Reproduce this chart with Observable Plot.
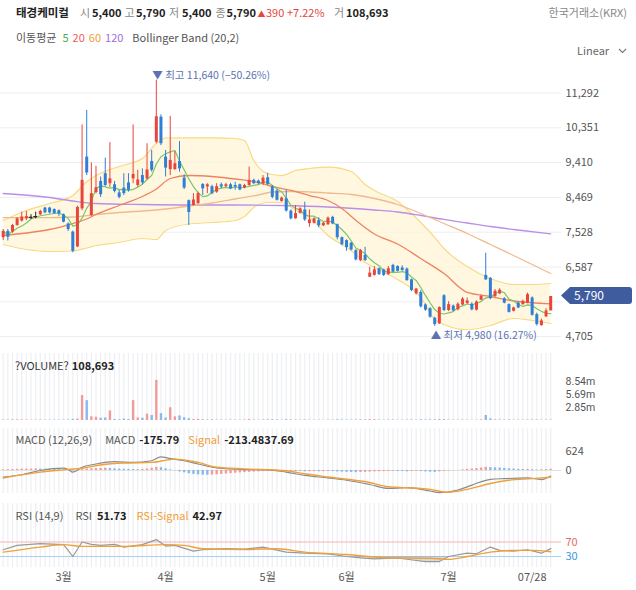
<!DOCTYPE html>
<html><head><meta charset="utf-8">
<script src="https://cdn.jsdelivr.net/npm/d3@7"></script>
<script src="https://cdn.jsdelivr.net/npm/@observablehq/plot@0.6"></script>
<style>
body{margin:0;background:#fff;font-family:'Noto Sans CJK KR','Noto Sans',sans-serif;}
#wrap{position:relative;width:636px;height:590px;overflow:hidden;background:#fff;}
.t{position:absolute;white-space:nowrap;font-size:11px;line-height:13px;color:#222;}
.row{position:absolute;white-space:nowrap;font-size:11px;line-height:13px;color:#222;display:flex;}
.g{color:#888;}
.b{font-weight:bold;}
</style></head>
<body><div id="wrap"></div>
<script>
// ---------- data ----------
const stockName = "태경케미컬";
const exchange = "한국거래소(KRX)";
const lastVolume = 108693;
const opens = [7380,7550,7530,7710,7830,7890,7930,7950,8000,8180,
8180,8140,8110,8000,7750,7530,7130,8160,9560,7980,
8600,8900,9110,8840,8810,8590,8720,8860,8970,8790,
9060,8970,9440,9960,10640,9560,9220,9220,9440,8990,
8380,8250,8300,8820,8750,8760,8610,8810,8760,8810,
8790,8810,8720,8790,8930,8910,8840,9000,8750,8640,
8360,8430,8100,7890,8040,8130,7760,7770,7840,7700,
7730,7930,7730,7380,7300,7230,7030,6760,6900,6310,
6360,6540,6510,6380,6630,6600,6560,6530,6240,5860,
5900,5560,5460,5200,5050,5810,5410,5530,5430,5560,
5600,5580,5420,5690,6360,6280,5790,5860,5730,5570,
5390,5610,5570,5610,5750,5300,5000,5240,5400];
const highs = [7600,7600,7740,7920,8070,8090,8000,8070,8120,8200,
8200,8160,8130,8020,7780,7560,8230,10430,10820,9400,
9310,9020,9530,9950,8900,8660,9110,9110,10430,9200,
9240,9920,9740,11640,10700,9740,10660,9710,9980,9080,
8400,8570,8610,8840,8840,8800,8840,8860,8850,8850,
8880,8830,8820,9290,8960,8940,9060,9120,8790,8680,
8480,8660,8130,8250,8190,8340,8130,7920,7920,7790,
7940,7960,7750,7400,7320,7250,7060,7060,7120,6580,
6600,6560,6530,6600,6660,6620,6620,6560,6260,6010,
5950,5590,5490,5230,5510,5840,5650,5560,5620,5760,
5750,5620,5670,5830,6960,6300,5980,6000,5760,5590,
5500,5640,5690,5880,5780,5340,5180,5460,5790];
const lows = [7300,7290,7500,7690,7800,7840,7870,7890,7980,8030,
8020,8010,7950,7780,7550,6970,7110,8110,9060,7950,
8560,8470,8760,8740,8590,8430,8520,8610,8840,8740,
8810,8930,9150,9920,9870,9020,9060,9200,9150,8680,
7710,8230,8280,8520,8570,8540,8580,8700,8730,8680,
8660,8650,8700,8770,8820,8810,8790,8790,8430,8370,
8340,8070,7860,7880,8020,7820,7660,7750,7650,7680,
7710,7730,7320,7160,7010,7020,6750,6730,6740,6300,
6340,6360,6330,6360,6430,6450,6470,6200,5920,5830,
5480,5390,5200,4980,5030,5380,5380,5380,5400,5540,
5580,5400,5400,5670,6220,5700,5760,5840,5590,5340,
5370,5460,5550,5590,5260,4990,4990,5220,5400];
const closes = [7550,7390,7710,7890,7940,7950,7930,7950,8090,8050,
8050,8030,8020,7800,7600,7010,8200,8930,9130,8570,
8730,8540,8790,8970,8630,8470,8570,8660,9090,8940,
8860,9210,9200,10650,9920,9260,9470,9380,9240,8720,
8060,8400,8570,8700,8810,8570,8760,8750,8810,8700,
8750,8670,8790,8930,8840,8840,8990,8820,8470,8390,
8450,8100,7890,8030,8160,7860,7860,7890,7700,7770,
7910,7750,7380,7190,7110,7050,6780,7030,6760,6420,
6510,6380,6360,6540,6450,6470,6490,6220,5950,5990,
5510,5420,5230,5030,5490,5410,5570,5400,5580,5720,
5670,5430,5640,5790,6240,5730,5930,5960,5610,5360,
5480,5480,5660,5840,5280,5030,5130,5400,5790];
// volume in millions of shares
const volumes = [0.12,0.1,0.15,0.14,0.12,0.1,0.08,0.08,0.1,0.09,0.08,0.08,0.07,0.1,0.12,0.25,
0.3,5.46,4.35,0.8,0.7,0.5,0.55,2.1,0.2,0.15,0.3,0.2,4.35,0.55,0.5,1.4,1.1,8.8,1.5,0.55,2.8,0.8,1.0,0.6,0.4,
0.2,0.25,0.15,0.12,0.15,0.12,0.1,0.08,0.1,0.08,
0.08,0.1,0.2,0.1,0.08,0.12,0.15,0.15,0.12,0.08,
0.15,0.12,0.1,0.08,0.12,0.1,0.08,0.08,0.07,0.1,
0.08,0.15,0.12,0.1,0.1,0.12,0.15,0.12,0.2,0.15,
0.1,0.08,0.1,0.12,0.08,0.08,0.1,0.12,0.1,0.15,
0.12,0.12,0.15,0.2,0.18,0.1,0.08,0.08,0.1,0.08,
0.07,0.08,0.15,1.1,0.35,0.15,0.12,0.1,0.12,0.08,
0.08,0.08,0.12,0.12,0.12,0.1,0.1,0.109];

// price gridlines; the 5,646 line's label sits under the current-price tag
const priceTicks = [4705,5646,6587,7528,8469,9410,10351,11292];
const priceLabelTicks = [4705,6587,7528,8469,9410,10351,11292];
const volTicks = [2.85,5.69,8.54];
const macdTicks = [0,624];
const rsiLevels = [30,70];
const xTickIdx = [13,35,57,74,96,114];
const xTickLabels = ["3월","4월","5월","6월","7월","07/28"];

const ma20Idx = [0,5,10,15,18,20,25,30,33,36,40,45,50,55,58,62,66,70,73,76,80,85,90,95,100,105,110,118];
const ma20Val = [7439,7506,7601,7763,7885,8007,8250,8493,8696,8980,9061,9034,8967,8872,8764,8656,8520,8385,8169,7850,7480,7209,6817,6411,5900,5789,5668,5592];
const ma60Idx = [0,10,15,20,25,30,35,40,45,50,55,58,62,66,70,75,80,85,90,95,100,105,110,118];
const ma60Val = [7921,7921,7939,8007,8061,8101,8155,8236,8318,8426,8534,8615,8629,8615,8588,8547,8439,8277,8034,7763,7493,7195,6898,6411];
const ma120Idx = [0,10,15,20,30,40,50,60,70,80,85,90,95,100,105,110,118];
const ma120Val = [8575,8466,8372,8304,8277,8264,8264,8250,8210,8128,8074,7980,7872,7777,7682,7601,7485];
const bbIdx = [0,5,10,15,18,20,25,30,33,35,40,45,50,52,54,57,60,63,66,70,75,78,80,85,90,93,95,100,105,110,114,118];
const bbUpper = [7844,8115,8304,8520,8890,9061,9305,9521,9926,10075,10080,10080,10062,10008,9467,9115,9061,9196,9250,9286,9169,8818,8656,8358,7790,7390,7087,6600,6276,6114,6114,6141];
const bbLower = [7196,7060,7006,7020,7101,7168,7250,7358,7330,7574,7750,7790,7844,7952,8196,8331,8331,8115,7925,7439,7033,6708,6573,6249,5762,5167,5032,4890,5005,5194,5140,5059];

const macdIdx = [0,4,8,13,14,15,17,20,24,28,32,34,36,39,42,46,52,57,61,65,70,74,79,83,87,92,94,98,101,105,108,113,116,118];
const macdVal = [-208,-135,0,73,31,-52,104,208,281,260,312,437,385,312,208,83,31,21,-52,-156,-239,-312,-447,-572,-551,-655,-707,-624,-468,-281,-260,-239,-291,-175.79];
const signalIdx = [0,8,13,17,21,26,32,37,42,46,52,61,65,70,79,83,87,92,96,100,105,109,114,118];
const signalVal = [-239,-52,21,73,177,239,260,364,260,104,52,-10,-104,-208,-385,-520,-551,-603,-697,-603,-416,-312,-260,-213.48];
const signalText = "-213.4837.69";
const macdHist = [20,25,30,35,40,42,45,48,45,40,35,30,25,20,10,
-20,-10,30,45,55,62,68,72,65,55,45,40,35,30,25,
35,50,70,100,90,55,20,-10,-45,-75,-105,-125,-140,-148,-152,
-145,-138,-125,-112,-100,-88,-78,-68,-58,-50,-42,-35,-28,-22,-16,-12,
-20,-28,-33,-30,-38,-36,-34,-37,-35,-30,-33,-44,-52,-58,-62,-70,-62,-58,-50,-42,-38,-35,-30,-28,
-30,-33,-40,-32,-22,-30,-44,-54,-60,-42,-30,-18,-8,5,20,35,47,60,78,100,
92,85,78,68,55,45,36,30,35,26,16,21,27,38];

const rsiIdx = [0,3,8,13,14,15,17,19,21,24,26,30,33,35,37,41,43,48,52,56,61,65,70,74,77,80,85,87,91,94,96,100,102,105,107,110,113,116,118];
const rsiVal = [48.7,60.7,65.5,62.7,46.8,30,70,63.5,60.7,63.5,56,62.7,76.6,58.8,60.7,44.8,48.7,51.5,50.4,56,42,39.2,37.5,30,26.4,23.6,26.4,22.5,16,16,30,39.2,37.5,56,46.8,44.8,48.7,39.2,51.73];
const rsiSigIdx = [0,8,13,17,26,35,39,43,52,59,65,74,83,92,96,100,105,110,114,118];
const rsiSigVal = [42,56,62.7,58,58,62.7,60.7,51.5,49.5,51.5,42,35.6,26.4,25.3,22,30,42,46.8,46.8,42.97];

// ---------- build ----------
const n = opens.length;
const idx = d3.range(n);
const candles = idx.map(i => ({i, o: opens[i], h: highs[i], l: lows[i], c: closes[i], v: volumes[i], m: macdHist[i], pm: i ? macdHist[i-1] : macdHist[i]}));
const series = (is, vs) => is.map((i, k) => ({i, v: vs[k]}));
const bb = bbIdx.map((i, k) => ({i, up: bbUpper[k], lo: bbLower[k]}));
const RED = "#e8453c", BLUE = "#2f7fd6", BLACK = "#222";
const dir = d => d.c > d.o ? RED : d.c < d.o ? BLUE : BLACK;
const fontFamily = "'Noto Sans CJK KR','Noto Sans',sans-serif";
const numFont = "Roboto, 'Liberation Sans', sans-serif";
const X = {domain: [0, n - 1], range: [2.7, 550.2], axis: null};
const baseStyle = {fontFamily, fontSize: "11px", overflow: "visible", background: "transparent"};
const fmt = d3.format(",");
const pct = d3.format(".2%");
const last = candles[n - 1];
const prev = candles[n - 2];
const hi = candles.reduce((a, b) => b.h > a.h ? b : a);
const lo = candles.reduce((a, b) => b.l < a.l ? b : a);
const wrap = document.getElementById("wrap");
const STRIPE = "#eff0f3";

function place(el, top) { el.style.position = "absolute"; el.style.left = "0px"; el.style.top = top + "px"; wrap.appendChild(el); return el; }
function txt(s, left, top, cls, css) {
  const e = document.createElement("div"); e.className = "t " + (cls || ""); e.textContent = s;
  e.style.left = left + "px"; e.style.top = top + "px"; if (css) Object.assign(e.style, css);
  wrap.appendChild(e); return e;
}
// a flowing row of [text, className, color, gapAfter]
function row(items, left, top) {
  const r = document.createElement("div"); r.className = "row";
  r.style.left = left + "px"; r.style.top = top + "px";
  for (const [s, cls, color, gap] of items) {
    const sp = document.createElement("span"); sp.textContent = s;
    if (cls) sp.className = cls; if (color) sp.style.color = color;
    sp.style.marginRight = (gap || 0) + "px"; r.appendChild(sp);
  }
  wrap.appendChild(r); return r;
}

// price panel
const price = Plot.plot({
  width: 636, height: 290, marginTop: 0, marginBottom: 0, marginLeft: 0, marginRight: 75,
  style: baseStyle, color: {type: "identity"},
  x: X,
  y: {domain: [priceTicks[0], priceTicks[priceTicks.length - 1]], range: [276.1, 32.5]},
  marks: [
    Plot.gridY(priceTicks, {stroke: "#eeeeee", strokeOpacity: 1}),
    Plot.axisY(priceLabelTicks, {anchor: "right", tickSize: 0, tickPadding: 4, tickFormat: fmt, color: "#555", fontSize: 11, label: null}),
    Plot.areaY(bb, {x: "i", y1: "lo", y2: "up", fill: "#fff4d4", fillOpacity: 0.75, curve: "monotone-x"}),
    Plot.lineY(bb, {x: "i", y: "up", stroke: "#f8da85", strokeWidth: 1.2, curve: "monotone-x"}),
    Plot.lineY(bb, {x: "i", y: "lo", stroke: "#f8da85", strokeWidth: 1.2, curve: "monotone-x"}),
    Plot.lineY(series(ma120Idx, ma120Val), {x: "i", y: "v", stroke: "#bb8ee8", strokeWidth: 1.3, curve: "monotone-x"}),
    Plot.lineY(series(ma60Idx, ma60Val), {x: "i", y: "v", stroke: "#f2b98e", strokeWidth: 1.3, curve: "monotone-x"}),
    Plot.lineY(series(ma20Idx, ma20Val), {x: "i", y: "v", stroke: "#ee8360", strokeWidth: 1.3, curve: "monotone-x"}),
    Plot.lineY(candles, Plot.windowY({k: 5, anchor: "end"}, {x: "i", y: "c", stroke: "#79c86a", strokeWidth: 1.2})),
    Plot.ruleX(candles, {x: "i", y1: "l", y2: "h", stroke: dir, strokeWidth: 1}),
    Plot.ruleX(candles.filter(d => d.o !== d.c), {x: "i", y1: "o", y2: "c", stroke: dir, strokeWidth: 3}),
    Plot.ruleY(candles.filter(d => d.o === d.c), {y: "c", x1: d => d.i - 0.4, x2: d => d.i + 0.4, stroke: BLACK, strokeWidth: 1.2}),
    Plot.text([hi], {x: "i", y: "h", text: d => `▼ 최고 ${fmt(d.h)} (${pct((last.c - d.h) / d.h)})`, textAnchor: "start", dx: -4, dy: -5, fill: "#5b73b2", fontSize: 10.5}),
    Plot.text([lo], {x: "i", y: "l", text: d => `▲ 최저 ${fmt(d.l)} (${pct((last.c - d.l) / d.l)})`, textAnchor: "start", dx: -4, dy: 9, fill: "#5b73b2", fontSize: 10.5})
  ]
});
place(price, 60);

// volume panel
const vol = Plot.plot({
  width: 636, height: 72, marginTop: 3, marginBottom: 2, marginLeft: 0, marginRight: 75,
  style: baseStyle, color: {type: "identity"},
  x: X,
  y: {domain: [0, volTicks[volTicks.length - 1]], range: [70, 31]},
  marks: [
    Plot.ruleX(idx, {x: d => d, stroke: STRIPE, strokeWidth: 1.3}),
    Plot.ruleX(candles, {x: "i", y1: 0, y2: "v", stroke: d => d.c >= d.o ? "#f29a9a" : "#89b8ea", strokeWidth: 2.4}),
    Plot.axisY(volTicks, {anchor: "right", tickSize: 0, tickPadding: 4, tickFormat: d => d.toFixed(2) + "m", color: "#555", fontSize: 10.5, fontFamily: numFont, label: null})
  ]
});
place(vol, 350);

// MACD panel
const macd = Plot.plot({
  width: 636, height: 72, marginTop: 3, marginBottom: 4, marginLeft: 0, marginRight: 75,
  style: baseStyle, color: {type: "identity"},
  x: X,
  y: {domain: [-800, macdTicks[1]], range: [70, 25.5]},
  marks: [
    Plot.ruleX(idx, {x: d => d, stroke: STRIPE, strokeWidth: 1.3}),
    Plot.ruleY([0], {stroke: "#e2e2e2"}),
    Plot.ruleX(candles, {x: "i", y1: 0, y2: "m", stroke: d => d.m >= d.pm ? "#f29a9a" : "#89b8ea", strokeWidth: 2.4}),
    Plot.lineY(series(macdIdx, macdVal), {x: "i", y: "v", stroke: "#8a8a8a", strokeWidth: 1.2, curve: "monotone-x"}),
    Plot.lineY(series(signalIdx, signalVal), {x: "i", y: "v", stroke: "#f0a03a", strokeWidth: 1.4, curve: "monotone-x"}),
    Plot.axisY(macdTicks, {anchor: "right", tickSize: 0, tickPadding: 4, tickFormat: d => String(d), color: "#555", fontSize: 11, label: null})
  ]
});
place(macd, 425);

// RSI panel
const rsi = series(rsiIdx, rsiVal);
const rsiChart = Plot.plot({
  width: 636, height: 90, marginTop: 3, marginBottom: 23, marginLeft: 0, marginRight: 75,
  style: baseStyle, color: {type: "identity"},
  x: X,
  y: {domain: [0, 100], range: [66.9, 30.6]},
  marks: [
    Plot.ruleX(idx, {x: d => d, stroke: STRIPE, strokeWidth: 1.3}),
    Plot.ruleY([rsiLevels[1]], {stroke: "#f6b4b4"}),
    Plot.ruleY([rsiLevels[0]], {stroke: "#a9cff2"}),
    Plot.areaY(rsi, {x: "i", y1: rsiLevels[0], y2: d => Math.min(d.v, rsiLevels[0]), fill: "#8d9ab0", fillOpacity: 0.35}),
    Plot.lineY(rsi, {x: "i", y: "v", stroke: "#999", strokeWidth: 1.2}),
    Plot.lineY(series(rsiSigIdx, rsiSigVal), {x: "i", y: "v", stroke: "#f0a03a", strokeWidth: 1.4, curve: "monotone-x"}),
    Plot.axisY([rsiLevels[1]], {anchor: "right", tickSize: 0, tickPadding: 4, color: "#e46a6a", fontSize: 11, label: null}),
    Plot.axisY([rsiLevels[0]], {anchor: "right", tickSize: 0, tickPadding: 4, color: "#3f97e0", fontSize: 11, label: null}),
    Plot.axisX(xTickIdx, {anchor: "bottom", tickSize: 0, tickPadding: 6, tickFormat: d => xTickLabels[xTickIdx.indexOf(d)], color: "#555", fontSize: 11, label: null})
  ]
});
place(rsiChart, 500);

// ---------- header & labels ----------
const chg = last.c - prev.c;
txt(stockName, 16, 6, "b", {fontSize: "11.5px"});
txt("시", 80, 6, "g"); txt(fmt(last.o), 92, 6, "b");
txt("고", 124.5, 6, "g"); txt(fmt(last.h), 136, 6, "b");
txt("저", 169, 6, "g"); txt(fmt(last.l), 182, 6, "b");
txt("종", 215.5, 6, "g"); txt(fmt(last.c), 226.5, 6, "b");
txt("▲", 257.5, 7, "", {color: RED, fontSize: "8px"});
txt(fmt(chg), 266, 6, "", {color: RED});
txt("+" + (chg / prev.c * 100).toFixed(2) + "%", 287, 6, "", {color: RED});
txt("거", 334, 6, "g"); txt(fmt(lastVolume), 346, 6, "b");
const ex = txt(exchange, 0, 6, "g"); ex.style.left = ""; ex.style.right = "9px";

row([["이동평균", "", "#555", 6], ["5", "", "#4cb050", 4], ["20", "", "#f05a5a", 4], ["60", "", "#f39c3c", 4], ["120", "", "#9a6ee0", 9], ["Bollinger Band (20,2)", "", "#555", 0]], 16, 30.5);
txt("Linear", 577, 43.5, "", {color: "#666"});
const chev = document.createElementNS("http://www.w3.org/2000/svg", "svg");
chev.setAttribute("width", "9"); chev.setAttribute("height", "6");
chev.style.position = "absolute"; chev.style.left = "618px"; chev.style.top = "48px";
chev.innerHTML = '<polyline points="1,1 4.5,4.5 8,1" fill="none" stroke="#777" stroke-width="1.1"/>';
wrap.appendChild(chev);

// current price tag, positioned with the price chart's y scale
const ty = price.scale("y").apply(last.c) + 60;
const tag = document.createElementNS("http://www.w3.org/2000/svg", "svg");
tag.setAttribute("width", "72"); tag.setAttribute("height", "17");
tag.style.position = "absolute"; tag.style.left = "561px"; tag.style.top = (ty - 8.5) + "px";
tag.innerHTML = '<path d="M0,8.5 L9,0 H68 Q71,0 71,3 V14 Q71,17 68,17 H9 Z" fill="#3f5c9f"/>' +
  `<text x="13" y="12.8" fill="#fff" font-size="12" font-family="${fontFamily}">${fmt(last.c)}</text>`;
wrap.appendChild(tag);

// sub-panel labels
row([["?VOLUME?", "", "#333", 3], [fmt(lastVolume), "b", "#222", 0]], 15, 358.5);
row([["MACD (12,26,9)", "", "#555", 13], ["MACD", "", "#555", 4], [macdVal[macdVal.length - 1].toFixed(2), "b", "#222", 9], ["Signal", "", "#f0a03a", 4], [signalText, "b", "#222", 0]], 15.5, 432.5);
row([["RSI (14,9)", "", "#555", 12], ["RSI", "", "#555", 5], [rsiVal[rsiVal.length - 1].toFixed(2), "b", "#222", 10], ["RSI-Signal", "", "#f0a03a", 4], [rsiSigVal[rsiSigVal.length - 1].toFixed(2), "b", "#222", 0]], 15.5, 508.5);
</script>
</body></html>
